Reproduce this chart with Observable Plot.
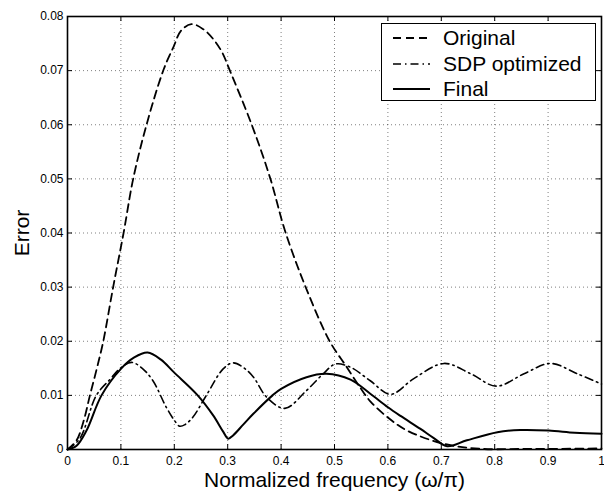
<!DOCTYPE html>
<html>
<head>
<meta charset="utf-8">
<script src="https://cdn.jsdelivr.net/npm/d3@7"></script>
<script src="https://cdn.jsdelivr.net/npm/@observablehq/plot@0.6"></script>
<style>
  html, body { margin: 0; padding: 0; background: #fff; }
  #wrap { position: relative; width: 604px; height: 492px; font-family: "Liberation Sans", Arial, Helvetica, sans-serif; }
  #legend { position: absolute; left: 381px; top: 23px; width: 213px; height: 76px; border: 1.5px solid #000; background: #fff; }
  .entry { position: absolute; left: 0; height: 26px; display: flex; align-items: center; font-size: 21px; color: #000; }
  .entry svg { margin-left: 11px; margin-right: 13px; }
</style>
</head>
<body>
<div id="wrap"></div>
<script>
// ---- data ----
const origFreq = [0, 0.017, 0.03, 0.042, 0.055, 0.067, 0.0855, 0.105, 0.123, 0.148, 0.18, 0.199, 0.212, 0.232, 0.255, 0.274, 0.29, 0.302, 0.345, 0.38, 0.407, 0.446, 0.491, 0.521, 0.549, 0.567, 0.6, 0.636, 0.705, 0.773, 0.85, 0.9, 1.0];
const origErr  = [0, 0.0017, 0.0052, 0.01, 0.015, 0.02, 0.03, 0.04, 0.05, 0.06, 0.0702, 0.0745, 0.0773, 0.0786, 0.0776, 0.0757, 0.0733, 0.0705, 0.06, 0.05, 0.0405, 0.03, 0.02, 0.0155, 0.0113, 0.0089, 0.0059, 0.0035, 0.00105, 0.00013, 0.0001, 0.0001, 0.0002];

const sdpFreq = [0, 0.023, 0.054, 0.08, 0.1, 0.12, 0.14, 0.16, 0.185, 0.2, 0.21, 0.22, 0.235, 0.26, 0.2915, 0.31, 0.33, 0.348, 0.3727, 0.407, 0.4476, 0.479, 0.502, 0.53, 0.567, 0.605, 0.6485, 0.705, 0.755, 0.803, 0.855, 0.9045, 0.9545, 1.0];
const sdpErr  = [0, 0.002, 0.01, 0.013, 0.0151, 0.0161, 0.015, 0.0127, 0.0078, 0.0054, 0.0043, 0.0046, 0.006, 0.01, 0.0149, 0.016, 0.0151, 0.0134, 0.0097, 0.0076, 0.0109, 0.014, 0.0158, 0.0152, 0.0127, 0.0102, 0.0131, 0.0159, 0.014, 0.0117, 0.014, 0.0159, 0.014, 0.0121];

const finalFreq = [0, 0.017, 0.0356, 0.0637, 0.1, 0.125, 0.15, 0.175, 0.2, 0.243, 0.2728, 0.2915, 0.301, 0.31, 0.329, 0.348, 0.384, 0.4, 0.4476, 0.485, 0.53, 0.567, 0.6, 0.6236, 0.661, 0.686, 0.711, 0.748, 0.805, 0.848, 0.901, 0.95, 1.0];
const finalErr  = [0, 0.0007, 0.0035, 0.01, 0.0149, 0.017, 0.0179, 0.0166, 0.0142, 0.0101, 0.0063, 0.0033, 0.002, 0.0026, 0.0046, 0.0066, 0.01, 0.0112, 0.01336, 0.01398, 0.0129, 0.0103, 0.0078, 0.0062, 0.0038, 0.0021, 0.0006, 0.0017, 0.0032, 0.0036, 0.0035, 0.0031, 0.0029];

const seriesNames = ["Original", "SDP optimized", "Final"];
const xTicks = [0, 0.1, 0.2, 0.3, 0.4, 0.5, 0.6, 0.7, 0.8, 0.9, 1];
const xTickLabels = ["0", "0.1", "0.2", "0.3", "0.4", "0.5", "0.6", "0.7", "0.8", "0.9", "1"];
const yTicks = [0, 0.01, 0.02, 0.03, 0.04, 0.05, 0.06, 0.07, 0.08];
const yTickLabels = ["0", "0.01", "0.02", "0.03", "0.04", "0.05", "0.06", "0.07", "0.08"];
const xLabel = "Normalized frequency (\u03C9/\u03C0)";
const yLabel = "Error";

// ---- layout / styles ----
const W = 604, H = 492;
const mL = 67, mR = 3, mT = 16, mB = 43;
const frameW = W - mL - mR, frameH = H - mT - mB;
const tickLen = 5;
const dashOrig = "8,5";
const dashSdp = "8,4,1.5,4";

const toRows = (fs, es) => fs.map((f, i) => ({f, e: es[i]}));
const orig = toRows(origFreq, origErr);
const sdp = toRows(sdpFreq, sdpErr);
const fin = toRows(finalFreq, finalErr);

const font = "'Liberation Sans', Arial, Helvetica, sans-serif";

const chart = Plot.plot({
  width: W, height: H,
  marginLeft: mL, marginRight: mR, marginTop: mT, marginBottom: mB,
  style: {fontFamily: font, fontSize: "12px", color: "#000", background: "#fff"},
  x: {domain: [0, 1], ticks: xTicks, tickFormat: d => xTickLabels[xTicks.indexOf(d)], tickSize: 0, tickPadding: 7, label: null},
  y: {domain: [0, 0.08], ticks: yTicks, tickFormat: d => yTickLabels[yTicks.indexOf(d)], tickSize: 0, tickPadding: 4, label: null},
  marks: [
    Plot.ruleX(xTicks, {x: d => d, stroke: "#000", strokeOpacity: 0.5, strokeDasharray: "1,3"}),
    Plot.ruleY(yTicks, {y: d => d, stroke: "#000", strokeOpacity: 0.5, strokeDasharray: "1,3"}),
    Plot.tickX(xTicks, {x: d => d, insetTop: frameH - tickLen, stroke: "#000", strokeWidth: 1}),
    Plot.tickX(xTicks, {x: d => d, insetBottom: frameH - tickLen, stroke: "#000", strokeWidth: 1}),
    Plot.tickY(yTicks, {y: d => d, insetRight: frameW - tickLen, stroke: "#000", strokeWidth: 1}),
    Plot.tickY(yTicks, {y: d => d, insetLeft: frameW - tickLen, stroke: "#000", strokeWidth: 1}),
    Plot.line(orig, {x: "f", y: "e", curve: "catmull-rom", stroke: "#000", strokeWidth: 1.8, strokeDasharray: dashOrig}),
    Plot.line(sdp, {x: "f", y: "e", curve: "catmull-rom", stroke: "#000", strokeWidth: 1.6, strokeDasharray: dashSdp}),
    Plot.line(fin, {x: "f", y: "e", curve: "catmull-rom", stroke: "#000", strokeWidth: 2}),
    Plot.frame({stroke: "#000", strokeWidth: 1.6}),
    Plot.text([xLabel], {frameAnchor: "bottom", dy: 31, lineAnchor: "middle", textAnchor: "middle", fontSize: 21, fill: "#000"}),
    Plot.text([yLabel], {frameAnchor: "left", dx: -45, rotate: -90, lineAnchor: "middle", textAnchor: "middle", fontSize: 21, fill: "#000"})
  ]
});

const wrap = document.getElementById("wrap");
wrap.appendChild(chart);

// legend
const legend = document.createElement("div");
legend.id = "legend";
const dashes = [dashOrig, dashSdp, null];
const widths = [1.8, 1.6, 2];
seriesNames.forEach((name, i) => {
  const row = document.createElement("div");
  row.className = "entry";
  row.style.top = (1 + i * 25.5) + "px";
  row.innerHTML = `<svg width="37" height="10"><line x1="0" y1="5" x2="37" y2="5" stroke="#000" stroke-width="${widths[i]}" ${dashes[i] ? `stroke-dasharray="${dashes[i]}"` : ""}/></svg><span>${name}</span>`;
  legend.appendChild(row);
});
wrap.appendChild(legend);
</script>
</body>
</html>
